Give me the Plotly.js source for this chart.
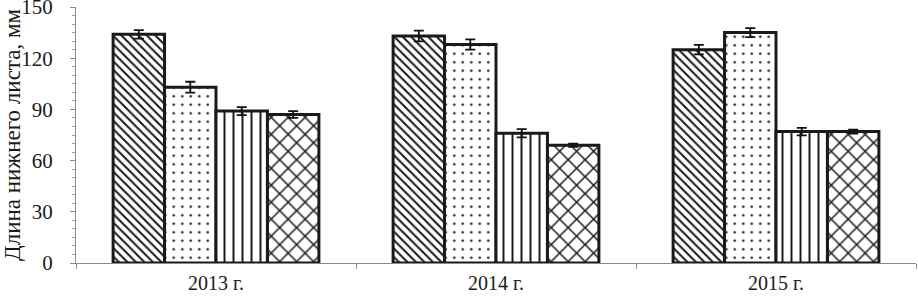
<!DOCTYPE html>
<html>
<head>
<meta charset="utf-8">
<script src="https://cdn.plot.ly/plotly-3.0.1.min.js"></script>
<style>html,body{margin:0;padding:0;background:#fff}#chart{width:918px;height:296px}</style>
</head>
<body>
<div id="chart"></div>
<script>
const years = ["2013 г.", "2014 г.", "2015 г."];
const seriesNames = ["Вариант 1", "Вариант 2", "Вариант 3", "Вариант 4"];
const s1 = [134, 133, 125];
const s2 = [103, 128, 135];
const s3 = [89, 76, 77];
const s4 = [87, 69, 77];
const e1 = [2.5, 3.2, 2.8];
const e2 = [3.2, 3.0, 2.6];
const e3 = [2.3, 2.4, 2.2];
const e4 = [2.0, 1.0, 1.2];
const yTicks = [0, 30, 60, 90, 120, 150];

const values = [s1, s2, s3, s4];
const errors = [e1, e2, e3, e4];
const patterns = [
  {shape: "\\", size: 6, solidity: 0.33},
  {shape: ".", size: 8.5, solidity: 0.07},
  {shape: "|", size: 9, solidity: 0.22},
  {shape: "x", size: 12, solidity: 0.24}
];
const serif = "'Liberation Serif', 'Times New Roman', serif";

const traces = values.map((v, i) => ({
  type: "bar",
  name: seriesNames[i],
  x: years,
  y: v,
  error_y: {type: "data", array: errors[i], visible: true, color: "#111", thickness: 1.8, width: 5},
  marker: {
    color: "white",
    line: {color: "#1a1a1a", width: 3},
    pattern: Object.assign({fgcolor: "#1a1a1a", bgcolor: "white", fillmode: "replace"}, patterns[i])
  },
  hoverinfo: "none"
}));

const layout = {
  width: 918, height: 296,
  margin: {l: 76, r: 2, t: 7, b: 33},
  paper_bgcolor: "white", plot_bgcolor: "white",
  showlegend: false,
  barmode: "group",
  bargap: 0.265,
  bargroupgap: 0,
  font: {family: serif, color: "#1a1a1a"},
  xaxis: {
    type: "category",
    showline: true, linecolor: "#8c8c8c", linewidth: 1,
    ticks: "outside", tickson: "boundaries", ticklen: 5, tickcolor: "#8c8c8c",
    tickfont: {size: 20, family: serif, color: "#1a1a1a"},
    ticklabelstandoff: 2,
    ticklabeloverflow: "allow",
    showgrid: false, zeroline: false, fixedrange: true
  },
  yaxis: {
    range: [0, 150],
    tickvals: yTicks,
    ticktext: yTicks.map(String),
    showline: true, linecolor: "#8c8c8c", linewidth: 1,
    ticks: "outside", ticklen: 5, tickcolor: "#8c8c8c",
    minor: {dtick: 5, ticks: "outside", ticklen: 3, tickcolor: "#a0a0a0", showgrid: false},
    tickfont: {size: 21, family: serif, color: "#1a1a1a"},
    ticklabelstandoff: 13,
    ticklabeloverflow: "allow",
    showgrid: false, zeroline: false, fixedrange: true,
    title: {text: "Длина нижнего листа, мм", font: {size: 23, family: serif, color: "#1a1a1a"}, standoff: 4}
  }
};

Plotly.newPlot("chart", traces, layout, {staticPlot: true, displayModeBar: false});
</script>
</body>
</html>
